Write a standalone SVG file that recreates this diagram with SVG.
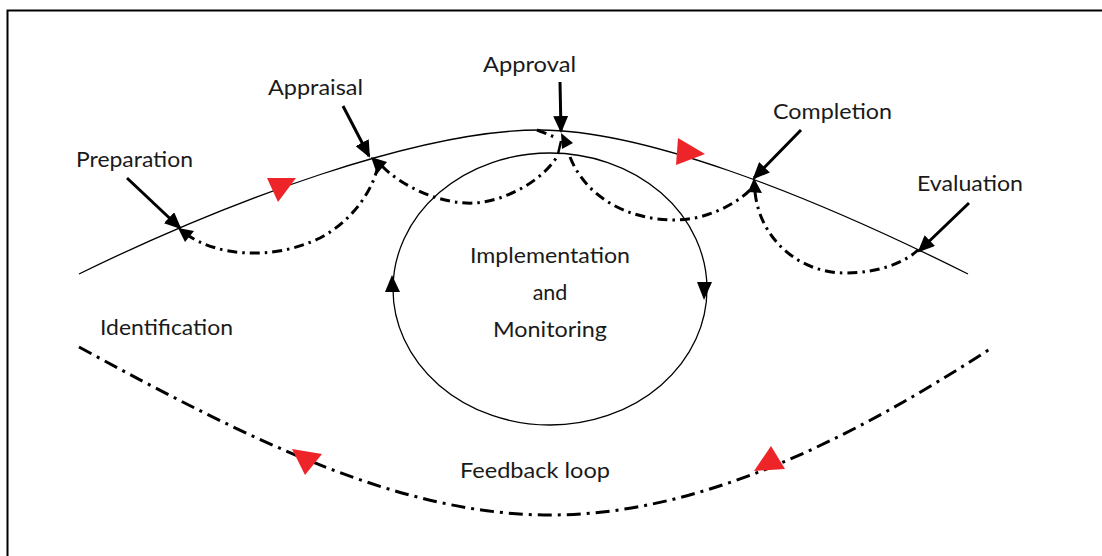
<svg xmlns="http://www.w3.org/2000/svg" width="1102" height="556" viewBox="0 0 1102 556">
<style>
  text { font-family: Lato, "Noto Sans", "Liberation Sans", sans-serif; font-size: 21.5px; fill: #1a1a1a; }
  .main { fill: none; stroke: #000; stroke-width: 1.3; }
  .dd { fill: none; stroke: #000; stroke-width: 3; stroke-dasharray: 10 5 2.5 5; }
  .fb { fill: none; stroke: #000; stroke-width: 3; stroke-dasharray: 14 6 3 6; }
  .arr { stroke: #000; stroke-width: 3; fill: none; marker-end: url(#head); }
  .red { fill: #ee2528; }
  .blk { fill: #000; }
</style>
<defs>
  <marker id="head" markerUnits="userSpaceOnUse" markerWidth="17" markerHeight="15" refX="15" refY="7.5" orient="auto">
    <path d="M0,0 L17,7.5 L0,15 z" fill="#000"/>
  </marker>
</defs>
<rect x="7.5" y="10.5" width="1200" height="700" fill="none" stroke="#000" stroke-width="2"/>

<g id="connectors">
  <path class="main" d="M79,274 C230,200 420,130 540,130 C640,130 800,190 968,274"/>
  <polygon class="red" points="267,178 296,178 278,202"/>
  <polygon class="red" points="678,138 705,154 676,165"/>

  <path class="dd" d="M186,234 C215,255 270,262 320,238 C350,222 370,195 377,170"/>
  <path class="dd" d="M382,166 C400,185 440,205 475,203 C510,200 545,178 558,155"/>
  <path d="M558,154 L561,141" stroke="#000" stroke-width="2.5"/>
  <path class="dd" d="M537,130 L557,138"/>
  <path class="dd" d="M570,157 C585,195 625,220 675,220 C705,220 735,205 750,190"/>
  <path class="dd" d="M755,192 C760,240 800,273 845,273 C880,273 905,262 918,250"/>
  <polygon class="blk" points="178,228 194,231 185,242"/>
  <polygon class="blk" points="371,157 387,162 377,174"/>
  <polygon class="blk" points="561,133 573,143 562,149"/>
  <polygon class="blk" points="754,178 762,193 748,192"/>

  <line class="arr" x1="127" y1="178" x2="180" y2="228"/>
  <line class="arr" x1="343" y1="106" x2="369" y2="156"/>
  <line class="arr" x1="560" y1="82" x2="561" y2="131"/>
  <line class="arr" x1="801" y1="130" x2="754" y2="178"/>
  <line class="arr" x1="969" y1="203" x2="919" y2="251"/>

  <path class="fb" d="M79,347 C250,440 400,515 550,515 C700,515 850,440 993,347"/>
  <polygon class="red" points="292,449 322,454 305,475"/>
  <polygon class="red" points="771,446 754,471 785,469"/>
</g>

<g id="implementation">
  <ellipse class="main" cx="550" cy="289" rx="157" ry="136" stroke-width="1.5"/>
  <polygon class="blk" points="392,275 385,292 400,292"/>
  <polygon class="blk" points="697,282 712,282 704,300"/>
  <text x="550" y="263" text-anchor="middle" textLength="160" lengthAdjust="spacingAndGlyphs">Implementation</text>
  <text x="550" y="300" text-anchor="middle">and</text>
  <text x="550" y="337" text-anchor="middle" textLength="114" lengthAdjust="spacingAndGlyphs">Monitoring</text>
</g>
<g id="preparation"><text x="76" y="167" textLength="117" lengthAdjust="spacingAndGlyphs">Preparation</text></g>
<g id="appraisal"><text x="268" y="95" textLength="95" lengthAdjust="spacingAndGlyphs">Appraisal</text></g>
<g id="approval"><text x="483" y="72" textLength="93" lengthAdjust="spacingAndGlyphs">Approval</text></g>
<g id="completion"><text x="773" y="119" textLength="119" lengthAdjust="spacingAndGlyphs">Completion</text></g>
<g id="evaluation"><text x="917" y="191" textLength="106" lengthAdjust="spacingAndGlyphs">Evaluation</text></g>
<g id="identification"><text x="100" y="335" textLength="133" lengthAdjust="spacingAndGlyphs">Identification</text></g>
<g id="feedback"><text x="460" y="478" textLength="150" lengthAdjust="spacingAndGlyphs">Feedback loop</text></g>
</svg>
